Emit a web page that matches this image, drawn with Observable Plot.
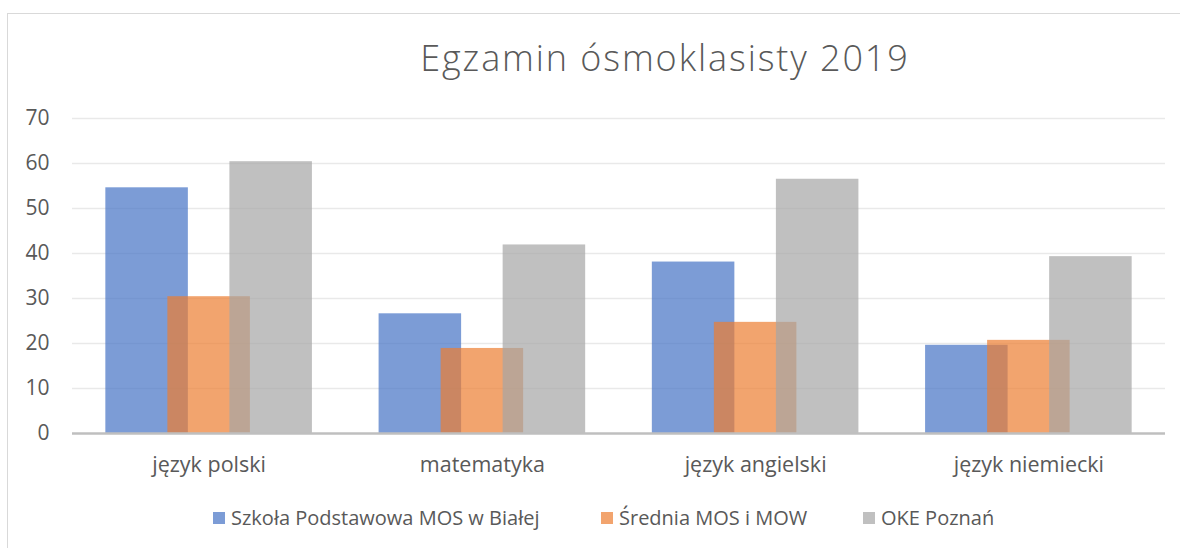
<!DOCTYPE html>
<html>
<head>
<meta charset="utf-8">
<script src="https://cdn.jsdelivr.net/npm/d3@7"></script>
<script src="https://cdn.jsdelivr.net/npm/@observablehq/plot@0.6"></script>
<style>
  html, body { margin: 0; padding: 0; background: #fff; width: 1180px; height: 548px; overflow: hidden; }
  body { position: relative; font-family: "Open Sans", "DejaVu Sans", sans-serif; color: #595959; }
  #frame { position: absolute; left: 7px; top: 13px; width: 1200px; height: 560px; border: 1px solid #d9d9d9; box-sizing: border-box; }
  #title { position: absolute; top: 40px; left: 665px; transform: translateX(-50%); font-size: 36px; line-height: 36px; font-weight: 300; white-space: nowrap; color: #595959; letter-spacing: 1.9px; }
  #chart { position: absolute; left: 0; top: 0; }
  #legend { position: absolute; top: 504px; left: 0; width: 1180px; font-size: 20px; line-height: 27px; color: #595959; }
  .item { position: absolute; white-space: nowrap; display: flex; align-items: center; }
  .sw { width: 12px; height: 12px; margin-right: 6px; display: inline-block; }
</style>
</head>
<body>
<div id="frame"></div>
<div id="title">Egzamin ósmoklasisty 2019</div>
<div id="chart"></div>
<div id="legend"></div>
<script>
const categories = ["język polski", "matematyka", "język angielski", "język niemiecki"];
const seriesNames = ["Szkoła Podstawowa MOS w Białej", "Średnia MOS i MOW", "OKE Poznań"];
const szkola = [54.6, 26.6, 38.1, 19.6];
const srednia = [30.4, 18.9, 24.7, 20.7];
const oke = [60.4, 41.9, 56.5, 39.3];
const colors = ["#4472C4", "#ED7D31", "#A5A5A5"];
const yTicks = [0, 10, 20, 30, 40, 50, 60, 70];

const seriesValues = [szkola, srednia, oke];
const data = [];
seriesValues.forEach((vals, j) => {
  vals.forEach((v, i) => data.push({cat: categories[i], i, series: seriesNames[j], j, value: v}));
});

const barW = 0.302;   // bar width in category units
const step = 0.227;   // offset between overlapping bars

const chart = Plot.plot({
  width: 1180,
  height: 548,
  marginTop: 118,
  marginBottom: 115,
  marginLeft: 72,
  marginRight: 15,
  style: {fontFamily: "'Open Sans', sans-serif", fontSize: "21px", color: "#595959", background: "transparent"},
  x: {domain: [-0.5, 3.5], axis: null},
  y: {domain: [0, 70], axis: null},
  color: {domain: seriesNames, range: colors},
  marks: [
    Plot.ruleY(yTicks.filter(t => t > 0), {stroke: "#e9e9e9", strokeWidth: 1.3}),
    Plot.axisY({ticks: yTicks, tickSize: 0, tickPadding: 23, fontSize: 21, fill: "#595959", label: null}),
    Plot.axisX({ticks: categories.map((c, i) => i), tickFormat: i => categories[i], tickSize: 0, tickPadding: 23, fontSize: 21.5, fill: "#595959", label: null}),
    Plot.rectY(data, {
      x1: d => d.i + (d.j - 1) * step - barW / 2,
      x2: d => d.i + (d.j - 1) * step + barW / 2,
      y1: 0,
      y2: "value",
      fill: "series",
      fillOpacity: 0.7
    }),
    Plot.ruleY([0], {stroke: "#bfbfbf", strokeWidth: 2.5})
  ]
});
document.getElementById("chart").appendChild(chart);

// Legend
const legendPos = [213, 601, 863];
const legend = document.getElementById("legend");
seriesNames.forEach((name, j) => {
  const it = document.createElement("div");
  it.className = "item";
  it.style.left = legendPos[j] + "px";
  const sw = document.createElement("span");
  sw.className = "sw";
  sw.style.background = colors[j];
  sw.style.opacity = 0.7;
  const t = document.createElement("span");
  t.textContent = name;
  it.appendChild(sw);
  it.appendChild(t);
  legend.appendChild(it);
});
</script>
</body>
</html>
